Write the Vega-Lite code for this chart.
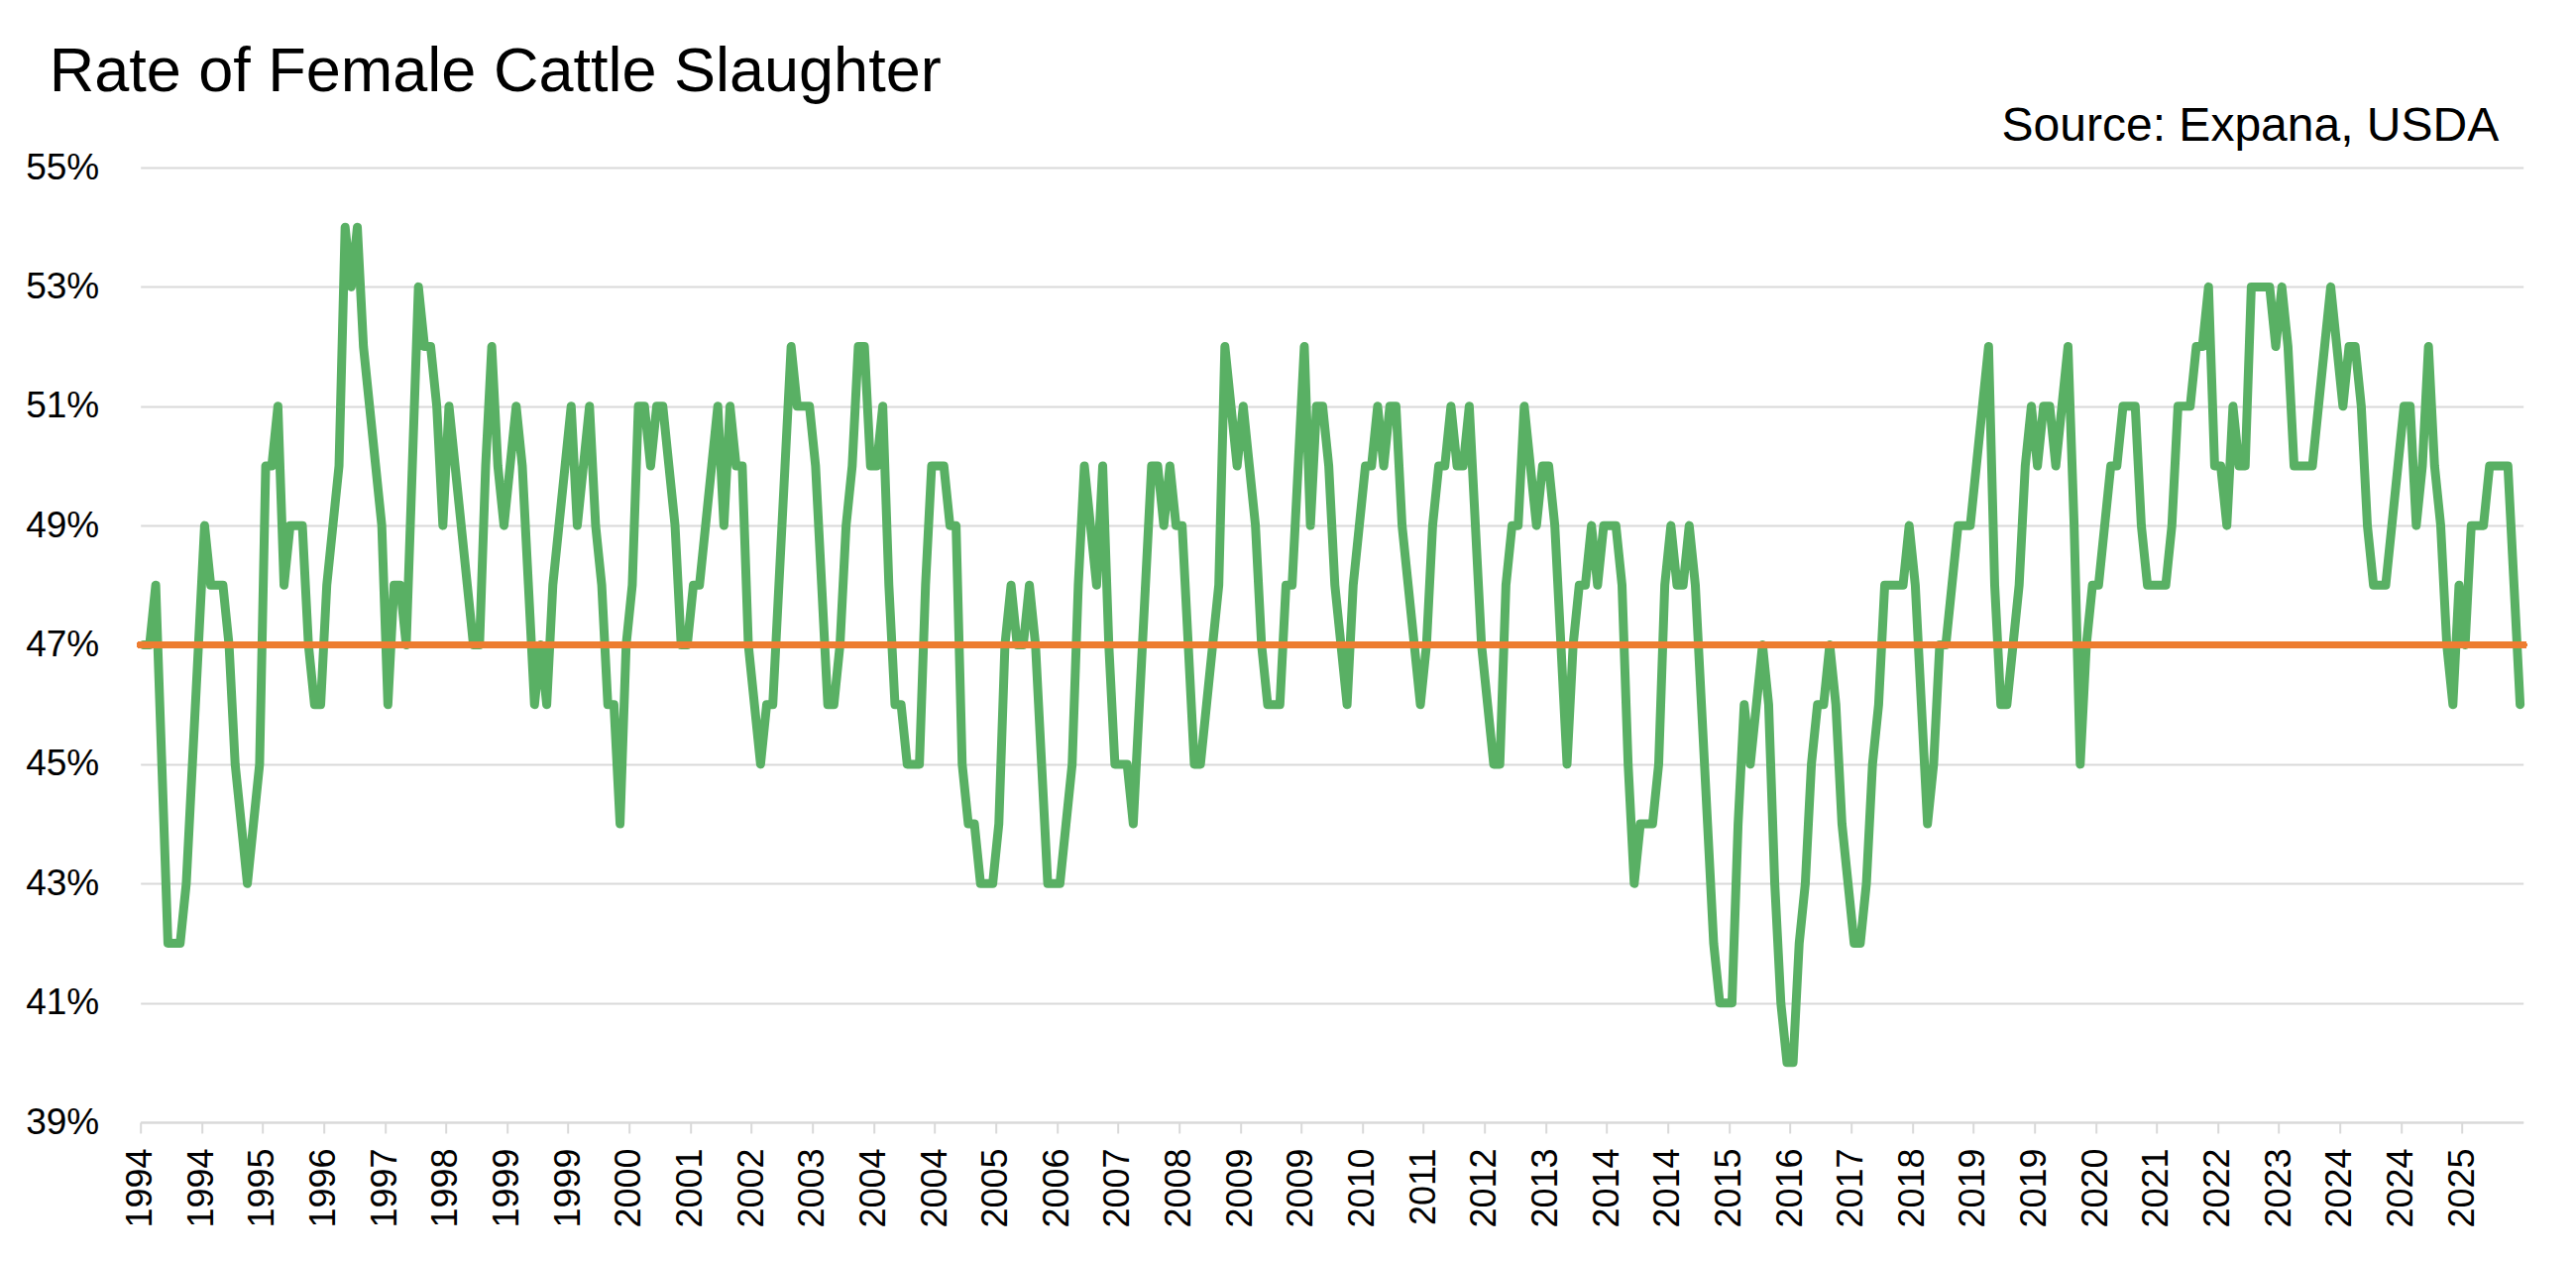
{
  "$schema": "https://vega.github.io/schema/vega-lite/v6.json",
  "description": "Rate of female cattle slaughter, monthly, with the long-run average",
  "width": 2404,
  "height": 963,
  "autosize": {"type": "none"},
  "padding": {"left": 141.7, "top": 169, "right": 53.3, "bottom": 141},
  "background": "#ffffff",
  "title": {
    "text": "Rate of Female Cattle Slaughter",
    "anchor": "start",
    "frame": "group",
    "font": "Liberation Sans",
    "fontSize": 63,
    "fontWeight": "normal",
    "color": "#000000",
    "baseline": "alphabetic",
    "dx": -92,
    "offset": -52
  },
  "data": {
    "values": [
      {"month": "1994-01", "pct": 47}, {"month": "1994-02", "pct": 47}, {"month": "1994-03", "pct": 48}, {"month": "1994-04", "pct": 45},
      {"month": "1994-05", "pct": 42}, {"month": "1994-06", "pct": 42}, {"month": "1994-07", "pct": 42}, {"month": "1994-08", "pct": 43},
      {"month": "1994-09", "pct": 45}, {"month": "1994-10", "pct": 47}, {"month": "1994-11", "pct": 49}, {"month": "1994-12", "pct": 48},
      {"month": "1995-01", "pct": 48}, {"month": "1995-02", "pct": 48}, {"month": "1995-03", "pct": 47}, {"month": "1995-04", "pct": 45},
      {"month": "1995-05", "pct": 44}, {"month": "1995-06", "pct": 43}, {"month": "1995-07", "pct": 44}, {"month": "1995-08", "pct": 45},
      {"month": "1995-09", "pct": 50}, {"month": "1995-10", "pct": 50}, {"month": "1995-11", "pct": 51}, {"month": "1995-12", "pct": 48},
      {"month": "1996-01", "pct": 49}, {"month": "1996-02", "pct": 49}, {"month": "1996-03", "pct": 49}, {"month": "1996-04", "pct": 47},
      {"month": "1996-05", "pct": 46}, {"month": "1996-06", "pct": 46}, {"month": "1996-07", "pct": 48}, {"month": "1996-08", "pct": 49},
      {"month": "1996-09", "pct": 50}, {"month": "1996-10", "pct": 54}, {"month": "1996-11", "pct": 53}, {"month": "1996-12", "pct": 54},
      {"month": "1997-01", "pct": 52}, {"month": "1997-02", "pct": 51}, {"month": "1997-03", "pct": 50}, {"month": "1997-04", "pct": 49},
      {"month": "1997-05", "pct": 46}, {"month": "1997-06", "pct": 48}, {"month": "1997-07", "pct": 48}, {"month": "1997-08", "pct": 47},
      {"month": "1997-09", "pct": 50}, {"month": "1997-10", "pct": 53}, {"month": "1997-11", "pct": 52}, {"month": "1997-12", "pct": 52},
      {"month": "1998-01", "pct": 51}, {"month": "1998-02", "pct": 49}, {"month": "1998-03", "pct": 51}, {"month": "1998-04", "pct": 50},
      {"month": "1998-05", "pct": 49}, {"month": "1998-06", "pct": 48}, {"month": "1998-07", "pct": 47}, {"month": "1998-08", "pct": 47},
      {"month": "1998-09", "pct": 50}, {"month": "1998-10", "pct": 52}, {"month": "1998-11", "pct": 50}, {"month": "1998-12", "pct": 49},
      {"month": "1999-01", "pct": 50}, {"month": "1999-02", "pct": 51}, {"month": "1999-03", "pct": 50}, {"month": "1999-04", "pct": 48},
      {"month": "1999-05", "pct": 46}, {"month": "1999-06", "pct": 47}, {"month": "1999-07", "pct": 46}, {"month": "1999-08", "pct": 48},
      {"month": "1999-09", "pct": 49}, {"month": "1999-10", "pct": 50}, {"month": "1999-11", "pct": 51}, {"month": "1999-12", "pct": 49},
      {"month": "2000-01", "pct": 50}, {"month": "2000-02", "pct": 51}, {"month": "2000-03", "pct": 49}, {"month": "2000-04", "pct": 48},
      {"month": "2000-05", "pct": 46}, {"month": "2000-06", "pct": 46}, {"month": "2000-07", "pct": 44}, {"month": "2000-08", "pct": 47},
      {"month": "2000-09", "pct": 48}, {"month": "2000-10", "pct": 51}, {"month": "2000-11", "pct": 51}, {"month": "2000-12", "pct": 50},
      {"month": "2001-01", "pct": 51}, {"month": "2001-02", "pct": 51}, {"month": "2001-03", "pct": 50}, {"month": "2001-04", "pct": 49},
      {"month": "2001-05", "pct": 47}, {"month": "2001-06", "pct": 47}, {"month": "2001-07", "pct": 48}, {"month": "2001-08", "pct": 48},
      {"month": "2001-09", "pct": 49}, {"month": "2001-10", "pct": 50}, {"month": "2001-11", "pct": 51}, {"month": "2001-12", "pct": 49},
      {"month": "2002-01", "pct": 51}, {"month": "2002-02", "pct": 50}, {"month": "2002-03", "pct": 50}, {"month": "2002-04", "pct": 47},
      {"month": "2002-05", "pct": 46}, {"month": "2002-06", "pct": 45}, {"month": "2002-07", "pct": 46}, {"month": "2002-08", "pct": 46},
      {"month": "2002-09", "pct": 48}, {"month": "2002-10", "pct": 50}, {"month": "2002-11", "pct": 52}, {"month": "2002-12", "pct": 51},
      {"month": "2003-01", "pct": 51}, {"month": "2003-02", "pct": 51}, {"month": "2003-03", "pct": 50}, {"month": "2003-04", "pct": 48},
      {"month": "2003-05", "pct": 46}, {"month": "2003-06", "pct": 46}, {"month": "2003-07", "pct": 47}, {"month": "2003-08", "pct": 49},
      {"month": "2003-09", "pct": 50}, {"month": "2003-10", "pct": 52}, {"month": "2003-11", "pct": 52}, {"month": "2003-12", "pct": 50},
      {"month": "2004-01", "pct": 50}, {"month": "2004-02", "pct": 51}, {"month": "2004-03", "pct": 48}, {"month": "2004-04", "pct": 46},
      {"month": "2004-05", "pct": 46}, {"month": "2004-06", "pct": 45}, {"month": "2004-07", "pct": 45}, {"month": "2004-08", "pct": 45},
      {"month": "2004-09", "pct": 48}, {"month": "2004-10", "pct": 50}, {"month": "2004-11", "pct": 50}, {"month": "2004-12", "pct": 50},
      {"month": "2005-01", "pct": 49}, {"month": "2005-02", "pct": 49}, {"month": "2005-03", "pct": 45}, {"month": "2005-04", "pct": 44},
      {"month": "2005-05", "pct": 44}, {"month": "2005-06", "pct": 43}, {"month": "2005-07", "pct": 43}, {"month": "2005-08", "pct": 43},
      {"month": "2005-09", "pct": 44}, {"month": "2005-10", "pct": 47}, {"month": "2005-11", "pct": 48}, {"month": "2005-12", "pct": 47},
      {"month": "2006-01", "pct": 47}, {"month": "2006-02", "pct": 48}, {"month": "2006-03", "pct": 47}, {"month": "2006-04", "pct": 45},
      {"month": "2006-05", "pct": 43}, {"month": "2006-06", "pct": 43}, {"month": "2006-07", "pct": 43}, {"month": "2006-08", "pct": 44},
      {"month": "2006-09", "pct": 45}, {"month": "2006-10", "pct": 48}, {"month": "2006-11", "pct": 50}, {"month": "2006-12", "pct": 49},
      {"month": "2007-01", "pct": 48}, {"month": "2007-02", "pct": 50}, {"month": "2007-03", "pct": 47}, {"month": "2007-04", "pct": 45},
      {"month": "2007-05", "pct": 45}, {"month": "2007-06", "pct": 45}, {"month": "2007-07", "pct": 44}, {"month": "2007-08", "pct": 46},
      {"month": "2007-09", "pct": 48}, {"month": "2007-10", "pct": 50}, {"month": "2007-11", "pct": 50}, {"month": "2007-12", "pct": 49},
      {"month": "2008-01", "pct": 50}, {"month": "2008-02", "pct": 49}, {"month": "2008-03", "pct": 49}, {"month": "2008-04", "pct": 47},
      {"month": "2008-05", "pct": 45}, {"month": "2008-06", "pct": 45}, {"month": "2008-07", "pct": 46}, {"month": "2008-08", "pct": 47},
      {"month": "2008-09", "pct": 48}, {"month": "2008-10", "pct": 52}, {"month": "2008-11", "pct": 51}, {"month": "2008-12", "pct": 50},
      {"month": "2009-01", "pct": 51}, {"month": "2009-02", "pct": 50}, {"month": "2009-03", "pct": 49}, {"month": "2009-04", "pct": 47},
      {"month": "2009-05", "pct": 46}, {"month": "2009-06", "pct": 46}, {"month": "2009-07", "pct": 46}, {"month": "2009-08", "pct": 48},
      {"month": "2009-09", "pct": 48}, {"month": "2009-10", "pct": 50}, {"month": "2009-11", "pct": 52}, {"month": "2009-12", "pct": 49},
      {"month": "2010-01", "pct": 51}, {"month": "2010-02", "pct": 51}, {"month": "2010-03", "pct": 50}, {"month": "2010-04", "pct": 48},
      {"month": "2010-05", "pct": 47}, {"month": "2010-06", "pct": 46}, {"month": "2010-07", "pct": 48}, {"month": "2010-08", "pct": 49},
      {"month": "2010-09", "pct": 50}, {"month": "2010-10", "pct": 50}, {"month": "2010-11", "pct": 51}, {"month": "2010-12", "pct": 50},
      {"month": "2011-01", "pct": 51}, {"month": "2011-02", "pct": 51}, {"month": "2011-03", "pct": 49}, {"month": "2011-04", "pct": 48},
      {"month": "2011-05", "pct": 47}, {"month": "2011-06", "pct": 46}, {"month": "2011-07", "pct": 47}, {"month": "2011-08", "pct": 49},
      {"month": "2011-09", "pct": 50}, {"month": "2011-10", "pct": 50}, {"month": "2011-11", "pct": 51}, {"month": "2011-12", "pct": 50},
      {"month": "2012-01", "pct": 50}, {"month": "2012-02", "pct": 51}, {"month": "2012-03", "pct": 49}, {"month": "2012-04", "pct": 47},
      {"month": "2012-05", "pct": 46}, {"month": "2012-06", "pct": 45}, {"month": "2012-07", "pct": 45}, {"month": "2012-08", "pct": 48},
      {"month": "2012-09", "pct": 49}, {"month": "2012-10", "pct": 49}, {"month": "2012-11", "pct": 51}, {"month": "2012-12", "pct": 50},
      {"month": "2013-01", "pct": 49}, {"month": "2013-02", "pct": 50}, {"month": "2013-03", "pct": 50}, {"month": "2013-04", "pct": 49},
      {"month": "2013-05", "pct": 47}, {"month": "2013-06", "pct": 45}, {"month": "2013-07", "pct": 47}, {"month": "2013-08", "pct": 48},
      {"month": "2013-09", "pct": 48}, {"month": "2013-10", "pct": 49}, {"month": "2013-11", "pct": 48}, {"month": "2013-12", "pct": 49},
      {"month": "2014-01", "pct": 49}, {"month": "2014-02", "pct": 49}, {"month": "2014-03", "pct": 48}, {"month": "2014-04", "pct": 45},
      {"month": "2014-05", "pct": 43}, {"month": "2014-06", "pct": 44}, {"month": "2014-07", "pct": 44}, {"month": "2014-08", "pct": 44},
      {"month": "2014-09", "pct": 45}, {"month": "2014-10", "pct": 48}, {"month": "2014-11", "pct": 49}, {"month": "2014-12", "pct": 48},
      {"month": "2015-01", "pct": 48}, {"month": "2015-02", "pct": 49}, {"month": "2015-03", "pct": 48}, {"month": "2015-04", "pct": 46},
      {"month": "2015-05", "pct": 44}, {"month": "2015-06", "pct": 42}, {"month": "2015-07", "pct": 41}, {"month": "2015-08", "pct": 41},
      {"month": "2015-09", "pct": 41}, {"month": "2015-10", "pct": 44}, {"month": "2015-11", "pct": 46}, {"month": "2015-12", "pct": 45},
      {"month": "2016-01", "pct": 46}, {"month": "2016-02", "pct": 47}, {"month": "2016-03", "pct": 46}, {"month": "2016-04", "pct": 43},
      {"month": "2016-05", "pct": 41}, {"month": "2016-06", "pct": 40}, {"month": "2016-07", "pct": 40}, {"month": "2016-08", "pct": 42},
      {"month": "2016-09", "pct": 43}, {"month": "2016-10", "pct": 45}, {"month": "2016-11", "pct": 46}, {"month": "2016-12", "pct": 46},
      {"month": "2017-01", "pct": 47}, {"month": "2017-02", "pct": 46}, {"month": "2017-03", "pct": 44}, {"month": "2017-04", "pct": 43},
      {"month": "2017-05", "pct": 42}, {"month": "2017-06", "pct": 42}, {"month": "2017-07", "pct": 43}, {"month": "2017-08", "pct": 45},
      {"month": "2017-09", "pct": 46}, {"month": "2017-10", "pct": 48}, {"month": "2017-11", "pct": 48}, {"month": "2017-12", "pct": 48},
      {"month": "2018-01", "pct": 48}, {"month": "2018-02", "pct": 49}, {"month": "2018-03", "pct": 48}, {"month": "2018-04", "pct": 46},
      {"month": "2018-05", "pct": 44}, {"month": "2018-06", "pct": 45}, {"month": "2018-07", "pct": 47}, {"month": "2018-08", "pct": 47},
      {"month": "2018-09", "pct": 48}, {"month": "2018-10", "pct": 49}, {"month": "2018-11", "pct": 49}, {"month": "2018-12", "pct": 49},
      {"month": "2019-01", "pct": 50}, {"month": "2019-02", "pct": 51}, {"month": "2019-03", "pct": 52}, {"month": "2019-04", "pct": 48},
      {"month": "2019-05", "pct": 46}, {"month": "2019-06", "pct": 46}, {"month": "2019-07", "pct": 47}, {"month": "2019-08", "pct": 48},
      {"month": "2019-09", "pct": 50}, {"month": "2019-10", "pct": 51}, {"month": "2019-11", "pct": 50}, {"month": "2019-12", "pct": 51},
      {"month": "2020-01", "pct": 51}, {"month": "2020-02", "pct": 50}, {"month": "2020-03", "pct": 51}, {"month": "2020-04", "pct": 52},
      {"month": "2020-05", "pct": 49}, {"month": "2020-06", "pct": 45}, {"month": "2020-07", "pct": 47}, {"month": "2020-08", "pct": 48},
      {"month": "2020-09", "pct": 48}, {"month": "2020-10", "pct": 49}, {"month": "2020-11", "pct": 50}, {"month": "2020-12", "pct": 50},
      {"month": "2021-01", "pct": 51}, {"month": "2021-02", "pct": 51}, {"month": "2021-03", "pct": 51}, {"month": "2021-04", "pct": 49},
      {"month": "2021-05", "pct": 48}, {"month": "2021-06", "pct": 48}, {"month": "2021-07", "pct": 48}, {"month": "2021-08", "pct": 48},
      {"month": "2021-09", "pct": 49}, {"month": "2021-10", "pct": 51}, {"month": "2021-11", "pct": 51}, {"month": "2021-12", "pct": 51},
      {"month": "2022-01", "pct": 52}, {"month": "2022-02", "pct": 52}, {"month": "2022-03", "pct": 53}, {"month": "2022-04", "pct": 50},
      {"month": "2022-05", "pct": 50}, {"month": "2022-06", "pct": 49}, {"month": "2022-07", "pct": 51}, {"month": "2022-08", "pct": 50},
      {"month": "2022-09", "pct": 50}, {"month": "2022-10", "pct": 53}, {"month": "2022-11", "pct": 53}, {"month": "2022-12", "pct": 53},
      {"month": "2023-01", "pct": 53}, {"month": "2023-02", "pct": 52}, {"month": "2023-03", "pct": 53}, {"month": "2023-04", "pct": 52},
      {"month": "2023-05", "pct": 50}, {"month": "2023-06", "pct": 50}, {"month": "2023-07", "pct": 50}, {"month": "2023-08", "pct": 50},
      {"month": "2023-09", "pct": 51}, {"month": "2023-10", "pct": 52}, {"month": "2023-11", "pct": 53}, {"month": "2023-12", "pct": 52},
      {"month": "2024-01", "pct": 51}, {"month": "2024-02", "pct": 52}, {"month": "2024-03", "pct": 52}, {"month": "2024-04", "pct": 51},
      {"month": "2024-05", "pct": 49}, {"month": "2024-06", "pct": 48}, {"month": "2024-07", "pct": 48}, {"month": "2024-08", "pct": 48},
      {"month": "2024-09", "pct": 49}, {"month": "2024-10", "pct": 50}, {"month": "2024-11", "pct": 51}, {"month": "2024-12", "pct": 51},
      {"month": "2025-01", "pct": 49}, {"month": "2025-02", "pct": 50}, {"month": "2025-03", "pct": 52}, {"month": "2025-04", "pct": 50},
      {"month": "2025-05", "pct": 49}, {"month": "2025-06", "pct": 47}, {"month": "2025-07", "pct": 46}, {"month": "2025-08", "pct": 48},
      {"month": "2025-09", "pct": 47}, {"month": "2025-10", "pct": 49}, {"month": "2025-11", "pct": 49}, {"month": "2025-12", "pct": 49},
      {"month": "2026-01", "pct": 50}, {"month": "2026-02", "pct": 50}, {"month": "2026-03", "pct": 50}, {"month": "2026-04", "pct": 50},
      {"month": "2026-05", "pct": 48}, {"month": "2026-06", "pct": 46}
    ]
  },
  "layer": [
    {
      "mark": {"type": "line", "color": "#59B064", "strokeWidth": 9, "strokeJoin": "round", "strokeCap": "round"},
      "encoding": {
        "x": {
          "field": "month",
          "type": "ordinal",
          "sort": null,
          "scale": {"type": "point", "padding": 0.5},
          "axis": {
            "title": null,
            "values": ["1994-01", "1994-11", "1995-09", "1996-07", "1997-05", "1998-03", "1999-01", "1999-11", "2000-09", "2001-07",
                       "2002-05", "2003-03", "2004-01", "2004-11", "2005-09", "2006-07", "2007-05", "2008-03", "2009-01", "2009-11",
                       "2010-09", "2011-07", "2012-05", "2013-03", "2014-01", "2014-11", "2015-09", "2016-07", "2017-05", "2018-03",
                       "2019-01", "2019-11", "2020-09", "2021-07", "2022-05", "2023-03", "2024-01", "2024-11", "2025-09"],
            "labelExpr": "substring(datum.value, 0, 4)",
            "labelAngle": -90,
            "labelAlign": "right",
            "labelBaseline": "middle",
            "labelFont": "Liberation Sans",
            "labelFontSize": 36,
            "labelColor": "#000000",
            "labelPadding": 15,
            "labelOverlap": false,
            "tickSize": 11,
            "tickColor": "#D9D9D9",
            "tickWidth": 2,
            "tickOffset": -3.08,
            "domainColor": "#D9D9D9",
            "domainWidth": 2,
            "grid": false
          }
        },
        "y": {
          "field": "pct",
          "type": "quantitative",
          "scale": {"domain": [39, 55], "nice": false, "zero": false},
          "axis": {
            "values": [39, 41, 43, 45, 47, 49, 51, 53, 55],
            "labelExpr": "datum.value + '%'",
            "labelFont": "Liberation Sans",
            "labelFontSize": 37,
            "labelColor": "#000000",
            "labelPadding": 42,
            "ticks": false,
            "tickSize": 0,
            "domain": false,
            "grid": true,
            "gridColor": "#D9D9D9",
            "gridWidth": 2,
            "title": "Source: Expana, USDA",
            "titleAngle": 0,
            "titleAlign": "right",
            "titleBaseline": "alphabetic",
            "titleX": 2379,
            "titleY": -28,
            "titleFont": "Liberation Sans",
            "titleFontSize": 48,
            "titleFontWeight": "normal",
            "titleColor": "#000000"
          }
        }
      }
    },
    {
      "mark": {"type": "rule", "color": "#ED7D31", "strokeWidth": 7, "strokeCap": "round"},
      "encoding": {"y": {"datum": 47}}
    }
  ],
  "config": {
    "view": {"stroke": null},
    "font": "Liberation Sans"
  }
}
